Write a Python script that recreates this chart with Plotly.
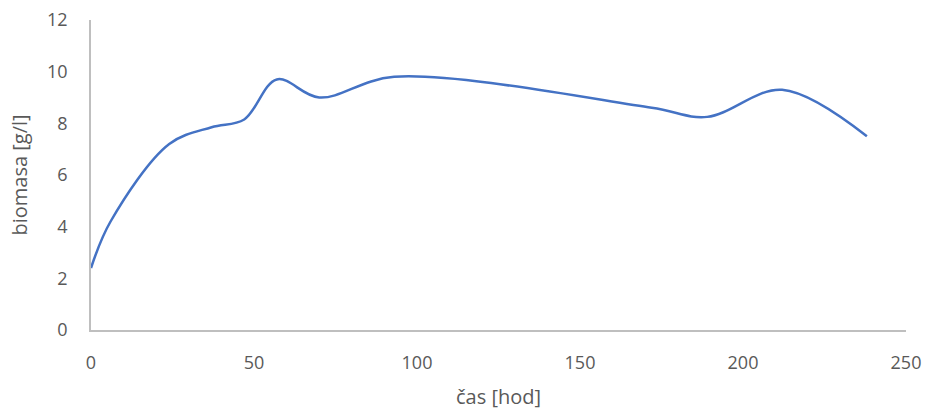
import plotly.graph_objects as go

cas = [0, 6, 24, 37, 47, 57, 70, 93, 172, 189, 212, 238]
biomasa = [2.4, 4.2, 7.2, 7.85, 8.15, 9.7, 9.0, 9.8, 8.6, 8.25, 9.3, 7.5]

x_ticks = [0, 50, 100, 150, 200, 250]
y_ticks = [0, 2, 4, 6, 8, 10, 12]

fig = go.Figure()
fig.add_trace(go.Scatter(
    x=cas, y=biomasa, mode="lines",
    line=dict(color="#4472C4", width=2.5, shape="spline", smoothing=1.0),
    showlegend=False,
))

font_family = "Open Sans, Liberation Sans, sans-serif"
fig.update_layout(
    width=925, height=410,
    margin=dict(l=91, r=19, t=20, b=80, autoexpand=False),
    paper_bgcolor="white", plot_bgcolor="white",
    font=dict(family=font_family, color="#595959", size=18),
)
fig.update_xaxes(
    range=[0, 250], tickvals=x_ticks, showgrid=False, zeroline=False,
    showline=True, linecolor="#BFBFBF", linewidth=1.5,
    ticks="", ticklabelstandoff=16, automargin=False,
    tickfont=dict(size=18, color="#595959"),
    title=dict(text="čas [hod]", font=dict(size=20, color="#595959"), standoff=22),
)
fig.update_yaxes(
    range=[0, 12], tickvals=y_ticks, showgrid=False, zeroline=False,
    showline=True, linecolor="#BFBFBF", linewidth=1.5,
    ticks="", ticklabelstandoff=18, automargin=False,
    tickfont=dict(size=18, color="#595959"),
    title=dict(text="biomasa [g/l]", font=dict(size=20, color="#595959"), standoff=14),
)
fig.write_html("out.html")
